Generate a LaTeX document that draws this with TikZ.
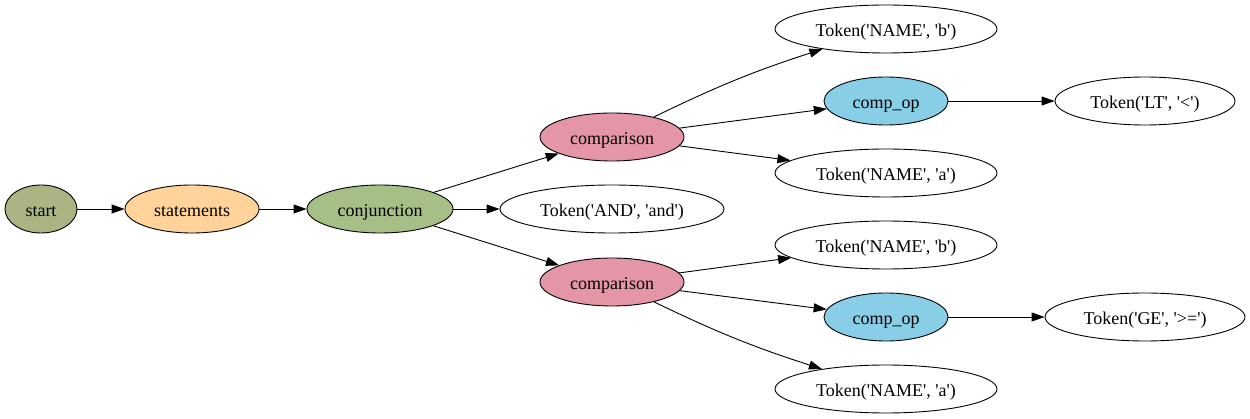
\documentclass[tikz,border=0pt]{standalone}
\usepackage{fontspec}
\setmainfont{Liberation Serif}
\newfontfamily\treefont{Liberation Serif}
\usetikzlibrary{shapes.geometric,arrows.meta}
\definecolor{startcol}{HTML}{ABB583}
\definecolor{stmtcol}{HTML}{FFD399}
\definecolor{conjcol}{HTML}{A5BF86}
\definecolor{compcol}{HTML}{E496A6}
\definecolor{opcol}{HTML}{87CEE6}
\newcommand{\sq}{\textquotesingle}
\tikzset{
  tree/.style={ellipse,draw,line width=0.9pt,inner sep=0pt,minimum height=48pt,
    text height=15pt,text depth=0pt,font=\treefont\fontsize{18}{20}\selectfont},
  edge/.style={line width=0.9pt,-{Triangle[length=13pt,width=9pt]}}
}
\begin{document}
\begin{tikzpicture}[x=1pt,y=-1pt]
\useasboundingbox (0,0) rectangle (1250,419);
\node at (41,209) [tree,fill=startcol,minimum width=72pt] (start) {start};
\node at (192,209) [tree,fill=stmtcol,minimum width=134pt] (stmts) {statements};
\node at (380,209) [tree,fill=conjcol,minimum width=146pt] (conj) {conjunction};
\node at (612,137) [tree,fill=compcol,minimum width=144pt] (cmp1) {comparison};
\node at (612,209) [tree,minimum width=224pt] (and) {Token(\sq AND\sq, \sq and\sq)};
\node at (612,282) [tree,fill=compcol,minimum width=144pt] (cmp2) {comparison};
\node at (886,29) [tree,minimum width=222pt] (b1) {Token(\sq NAME\sq, \sq b\sq)};
\node at (886,101) [tree,fill=opcol,minimum width=124pt] (op1) {comp\_op};
\node at (886,173) [tree,minimum width=222pt] (a1) {Token(\sq NAME\sq, \sq a\sq)};
\node at (886,245) [tree,minimum width=222pt] (b2) {Token(\sq NAME\sq, \sq b\sq)};
\node at (886,317) [tree,fill=opcol,minimum width=124pt] (op2) {comp\_op};
\node at (886,389) [tree,minimum width=222pt] (a2) {Token(\sq NAME\sq, \sq a\sq)};
\node at (1145,101) [tree,minimum width=180pt] (lt) {Token(\sq LT\sq, \sq<\sq)};
\node at (1145,317) [tree,minimum width=200pt] (ge) {Token(\sq GE\sq, \sq>=\sq)};
\draw[edge] (start) -- (stmts);
\draw[edge] (stmts) -- (conj);
\draw[edge] (conj) -- (cmp1);
\draw[edge] (conj) -- (and);
\draw[edge] (conj) -- (cmp2);
\draw[edge] (cmp1) to[bend left=4] (b1);
\draw[edge] (cmp1) -- (op1);
\draw[edge] (cmp1) -- (a1);
\draw[edge] (cmp2) -- (b2);
\draw[edge] (cmp2) -- (op2);
\draw[edge] (cmp2) to[bend right=4] (a2);
\draw[edge] (op1) -- (lt);
\draw[edge] (op2) -- (ge);
\end{tikzpicture}
\end{document}
